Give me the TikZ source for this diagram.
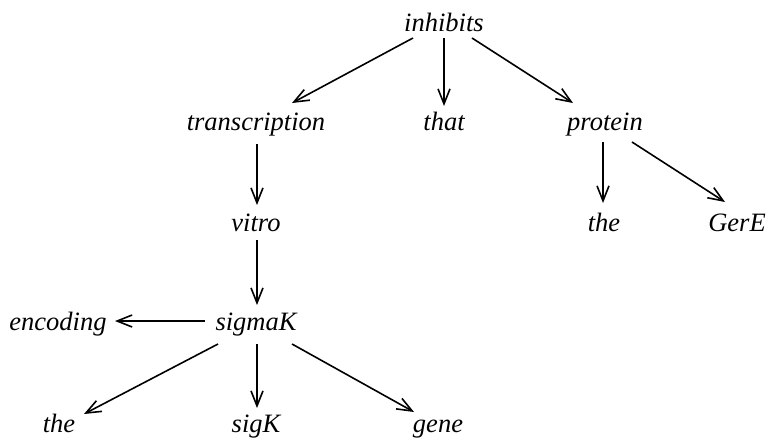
\documentclass[tikz,border=0pt]{standalone}
\usepackage{fontspec}
\setmainfont{Liberation Serif}
\usetikzlibrary{arrows.meta}
\begin{document}
\begin{tikzpicture}[x=1pt,y=-1pt,
  word/.style={anchor=base,inner sep=0pt,font=\fontsize{26.5}{30}\selectfont\itshape},
  dep/.style={line width=1.6pt,-{Straight Barb[length=15pt,width=12pt,line width=1.6pt]}}]
\useasboundingbox (0,0) rectangle (780,440);

% words of the dependency tree, placed on their baselines
\node[word] (inhibits)      at (444,31)  {inhibits};
\node[word] (transcription) at (256,130) {transcription};
\node[word] (that)          at (444,130) {that};
\node[word] (protein)       at (605,130) {protein};
\node[word] (vitro)         at (256,231) {vitro};
\node[word] (theA)          at (604,231) {the};
\node[word] (GerE)          at (737,231) {GerE};
\node[word] (sigmaK)        at (256,330) {sigmaK};
\node[word] (encoding)      at (58,330)  {encoding};
\node[word] (theB)          at (59,432)  {the};
\node[word] (sigK)          at (256,432) {sigK};
\node[word] (gene)          at (438,432) {gene};

% head -> dependent arcs
\draw[dep] ([xshift=-31pt,yshift=-7pt]inhibits.base) -- ([xshift=36pt,yshift=27pt]transcription.base);
\draw[dep] ([yshift=-7pt]inhibits.base) -- ([yshift=24pt]that.base);
\draw[dep] ([xshift=28pt,yshift=-7pt]inhibits.base) -- ([xshift=-32pt,yshift=27pt]protein.base);
\draw[dep] ([xshift=1pt,yshift=-14pt]transcription.base) -- ([xshift=1pt,yshift=26pt]vitro.base);
\draw[dep] ([xshift=1pt,yshift=-9pt]vitro.base) -- ([xshift=1pt,yshift=25pt]sigmaK.base);
\draw[dep] ([xshift=-2pt,yshift=-12pt]protein.base) -- ([xshift=-1pt,yshift=28pt]theA.base);
\draw[dep] ([xshift=27pt,yshift=-12pt]protein.base) -- ([xshift=-12pt,yshift=29pt]GerE.base);
\draw[dep] ([xshift=-51pt,yshift=9pt]sigmaK.base) -- ([xshift=57pt,yshift=9pt]encoding.base);
\draw[dep] ([xshift=-38pt,yshift=-14pt]sigmaK.base) -- ([xshift=25pt,yshift=18pt]theB.base);
\draw[dep] ([xshift=1pt,yshift=-14pt]sigmaK.base) -- ([xshift=1pt,yshift=24pt]sigK.base);
\draw[dep] ([xshift=36pt,yshift=-14pt]sigmaK.base) -- ([xshift=-24pt,yshift=20pt]gene.base);
\end{tikzpicture}
\end{document}
